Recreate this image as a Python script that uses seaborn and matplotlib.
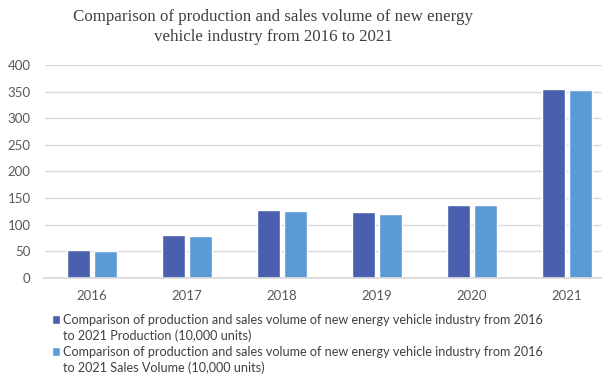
import matplotlib
matplotlib.use("Agg")
import matplotlib.pyplot as plt
from matplotlib.patches import Patch
import pandas as pd
import seaborn as sns

years = ["2016", "2017", "2018", "2019", "2020", "2021"]
production = [51.7, 79.4, 127.0, 124.2, 136.6, 354.5]
sales = [50.7, 77.7, 125.6, 120.6, 136.7, 352.1]
series_names = ["Production", "Sales Volume"]
legend_prefix = "Comparison of production and sales volume of new energy vehicle industry from 2016"
legend_suffix = ["to 2021 Production (10,000 units)", "to 2021 Sales Volume (10,000 units)"]
y_ticks = [0, 50, 100, 150, 200, 250, 300, 350, 400]
title = "Comparison of production and sales volume of new energy\nvehicle industry from 2016 to 2021"

df = pd.DataFrame({
    "year": years * 2,
    "value": production + sales,
    "series": [series_names[0]] * len(years) + [series_names[1]] * len(years),
})

sns.set_theme(style="white")
plt.rcParams["font.family"] = ["Lato", "DejaVu Sans"]

fig = plt.figure(figsize=(6.02, 3.80), dpi=100)
ax = fig.add_axes([44.5 / 602, 1 - 277.7 / 380, 1 - 44.5 / 602, (277.7 - 65) / 380])

palette = ["#4A5FAD", "#5B9BD5"]
sns.barplot(data=df, x="year", y="value", hue="series", palette=palette,
            width=0.568, gap=0.15, saturation=1, ax=ax, legend=True)

ax.set_xlim(-0.5, 5.368)
ax.set_ylim(0, 400)
ax.set_yticks(y_ticks)
ax.set_yticklabels([str(t) for t in y_ticks])
ax.yaxis.grid(True, color="#D9D9D9", linewidth=1)
ax.set_axisbelow(True)
for s in ["top", "right", "left"]:
    ax.spines[s].set_visible(False)
ax.spines["bottom"].set_color("#D9D9D9")
ax.set_xlabel("")
ax.set_ylabel("")
ax.tick_params(axis="both", length=0, labelsize=9.5, labelcolor="#595959")
ax.tick_params(axis="y", pad=10)
ax.tick_params(axis="x", pad=9)

# Legend: swatch on the first line of each wrapped entry
handles, _ = ax.get_legend_handles_labels()
ax.get_legend().remove()
blank = Patch(facecolor="none", edgecolor="none")
leg_handles, leg_labels = [], []
for h, suffix in zip(handles, legend_suffix):
    leg_handles += [h, blank]
    leg_labels += [legend_prefix, suffix]
fig.legend(leg_handles, leg_labels, loc="upper left", bbox_to_anchor=(52 / 602, 1 - 313.5 / 380),
           frameon=False, fontsize=9.1, handlelength=0.65, handleheight=0.7,
           handletextpad=0.2, labelspacing=0.31, borderpad=0, borderaxespad=0,
           labelcolor="#404040")

fig.text(273 / 602, 1 - 27 / 380, title, ha="center", va="center",
         family="Liberation Serif", fontsize=12.2, color="#404040", linespacing=1.3)

fig.savefig("out.png", dpi=100)
